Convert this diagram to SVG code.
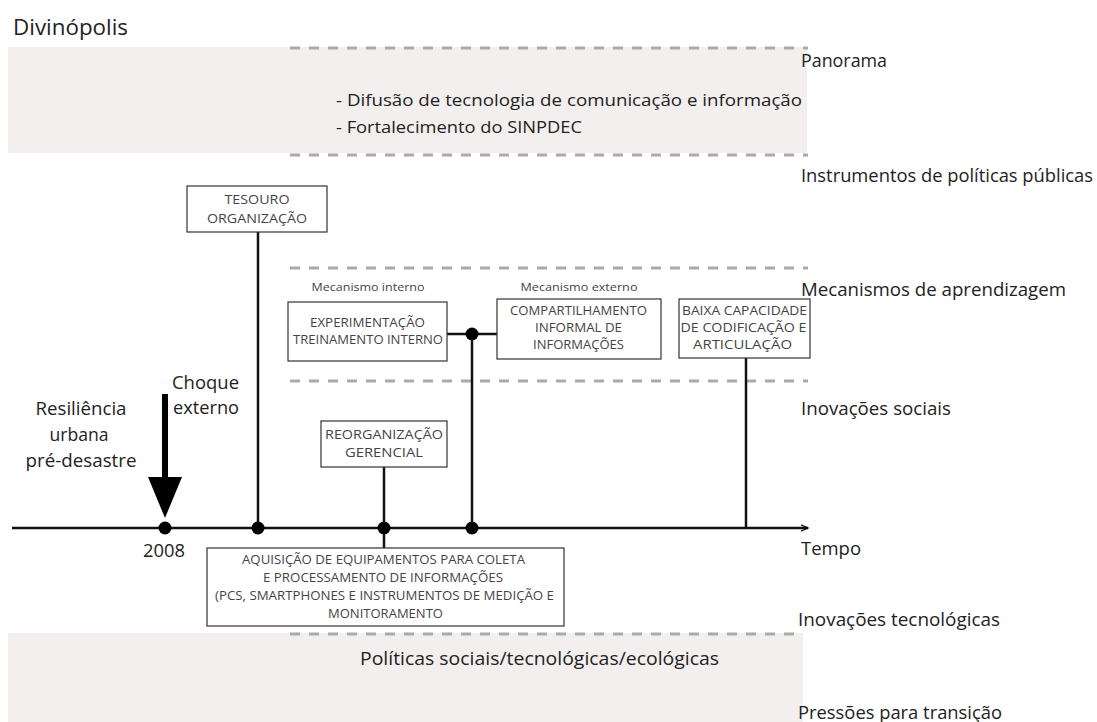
<svg xmlns="http://www.w3.org/2000/svg" width="1097" height="722" viewBox="0 0 1097 722">
<defs>
<style>
text{font-family:"Open Sans","Liberation Sans",sans-serif;fill:#222}
.lbl{font-size:17.5px}
.box{fill:#fff;stroke:#333;stroke-width:1.2}
.bt{font-size:12.5px;fill:#444;text-anchor:middle}
.mt{font-size:11.5px;fill:#444;text-anchor:middle}
.dash{stroke:#aaa;stroke-width:3;stroke-dasharray:10 9;fill:none}
.band{fill:#f2efee}
.ln{stroke:#111;stroke-width:2.5;fill:none}
.dot{fill:#000}
</style>
<marker id="arr" viewBox="0 0 10 10" refX="9" refY="5" markerWidth="8" markerHeight="8" orient="auto" markerUnits="userSpaceOnUse"><path d="M0,1 L9,5 L0,9" fill="none" stroke="#000" stroke-width="1.5"/></marker>
</defs>
<rect width="1097" height="722" fill="#fff"/>
<g id="background">
<rect class="band" x="8" y="47" width="799" height="106"/>
<rect class="band" x="8" y="633" width="795" height="89"/>
<line class="dash" x1="290" y1="48" x2="808" y2="48"/>
<line class="dash" x1="290" y1="155" x2="808" y2="155"/>
<line class="dash" x1="290" y1="268" x2="808" y2="268"/>
<line class="dash" x1="290" y1="381" x2="808" y2="381"/>
<line class="dash" x1="290" y1="634" x2="803" y2="634"/>
</g>
<g id="titles">
<text x="13" y="35" style="font-size:22px" textLength="115" lengthAdjust="spacingAndGlyphs">Divinópolis</text>
<text x="336" y="106" style="font-size:16.5px" textLength="466" lengthAdjust="spacingAndGlyphs">- Difusão de tecnologia de comunicação e informação</text>
<text x="336" y="133" style="font-size:16.5px" textLength="246" lengthAdjust="spacingAndGlyphs">- Fortalecimento do SINPDEC</text>
<text class="lbl" x="801" y="67" textLength="86" lengthAdjust="spacingAndGlyphs">Panorama</text>
<text class="lbl" x="801" y="182" textLength="292" lengthAdjust="spacingAndGlyphs">Instrumentos de políticas públicas</text>
<text class="lbl" x="801" y="296" textLength="265" lengthAdjust="spacingAndGlyphs">Mecanismos de aprendizagem</text>
<text class="lbl" x="801" y="415" textLength="150" lengthAdjust="spacingAndGlyphs">Inovações sociais</text>
<text class="lbl" x="801" y="555" textLength="60" lengthAdjust="spacingAndGlyphs">Tempo</text>
<text class="lbl" x="798" y="626" textLength="202" lengthAdjust="spacingAndGlyphs">Inovações tecnológicas</text>
<text class="lbl" x="798" y="719" textLength="204" lengthAdjust="spacingAndGlyphs">Pressões para transição</text>
<text class="lbl" x="360" y="665" textLength="359" lengthAdjust="spacingAndGlyphs">Políticas sociais/tecnológicas/ecológicas</text>
<text class="lbl" x="164" y="557" text-anchor="middle" textLength="42" lengthAdjust="spacingAndGlyphs">2008</text>
<text class="lbl" x="81" y="415" text-anchor="middle" textLength="91" lengthAdjust="spacingAndGlyphs">Resiliência</text>
<text class="lbl" x="79" y="441" text-anchor="middle" textLength="59" lengthAdjust="spacingAndGlyphs">urbana</text>
<text class="lbl" x="81" y="467" text-anchor="middle" textLength="111" lengthAdjust="spacingAndGlyphs">pré-desastre</text>
<text class="lbl" x="172" y="389" textLength="67" lengthAdjust="spacingAndGlyphs">Choque</text>
<text class="lbl" x="173" y="414" textLength="66" lengthAdjust="spacingAndGlyphs">externo</text>
<text class="mt" x="368" y="291" textLength="113" lengthAdjust="spacingAndGlyphs">Mecanismo interno</text>
<text class="mt" x="579" y="291" textLength="117" lengthAdjust="spacingAndGlyphs">Mecanismo externo</text>
</g>
<g id="connectors">
<line class="ln" x1="12" y1="528" x2="808" y2="528" marker-end="url(#arr)" stroke-width="2.5"/>
<line class="ln" x1="258" y1="232" x2="258" y2="528"/>
<line class="ln" x1="447" y1="334" x2="497" y2="334"/>
<line class="ln" x1="472" y1="334" x2="472" y2="528"/>
<line class="ln" x1="746" y1="358" x2="746" y2="528"/>
<line class="ln" x1="384" y1="467" x2="384" y2="548"/>
<line x1="165" y1="394" x2="165" y2="480" stroke="#000" stroke-width="6"/>
<polygon points="148,477 182,477 165,518" fill="#000"/>
<circle class="dot" cx="165" cy="528" r="6.5"/>
<circle class="dot" cx="258" cy="528" r="6.5"/>
<circle class="dot" cx="384" cy="528" r="6.5"/>
<circle class="dot" cx="472" cy="528" r="6.5"/>
<circle class="dot" cx="472" cy="334" r="6.5"/>
</g>
<g id="n-tesouro">
<rect class="box" x="187" y="186" width="140" height="46"/>
<text class="bt" x="257" y="204" textLength="65" lengthAdjust="spacingAndGlyphs">TESOURO</text>
<text class="bt" x="257" y="223" textLength="100" lengthAdjust="spacingAndGlyphs">ORGANIZAÇÃO</text>
</g>
<g id="n-experimentacao">
<rect class="box" x="288" y="302" width="159" height="59"/>
<text class="bt" x="367.5" y="327" textLength="115" lengthAdjust="spacingAndGlyphs">EXPERIMENTAÇÃO</text>
<text class="bt" x="368" y="344" textLength="150" lengthAdjust="spacingAndGlyphs">TREINAMENTO INTERNO</text>
</g>
<g id="n-compartilhamento">
<rect class="box" x="497" y="299" width="164" height="60"/>
<text class="bt" x="578.5" y="315" textLength="137" lengthAdjust="spacingAndGlyphs">COMPARTILHAMENTO</text>
<text class="bt" x="578.5" y="332" textLength="87" lengthAdjust="spacingAndGlyphs">INFORMAL DE</text>
<text class="bt" x="578.5" y="349" textLength="91" lengthAdjust="spacingAndGlyphs">INFORMAÇÕES</text>
</g>
<g id="n-baixa">
<rect class="box" x="679" y="299" width="131" height="59"/>
<text class="bt" x="744.5" y="315" textLength="125" lengthAdjust="spacingAndGlyphs">BAIXA CAPACIDADE</text>
<text class="bt" x="743.5" y="332" textLength="126" lengthAdjust="spacingAndGlyphs">DE CODIFICAÇÃO E</text>
<text class="bt" x="742.5" y="349" textLength="99" lengthAdjust="spacingAndGlyphs">ARTICULAÇÃO</text>
</g>
<g id="n-reorganizacao">
<rect class="box" x="321" y="421" width="126" height="46"/>
<text class="bt" x="384" y="439" textLength="118" lengthAdjust="spacingAndGlyphs">REORGANIZAÇÃO</text>
<text class="bt" x="384" y="457" textLength="78" lengthAdjust="spacingAndGlyphs">GERENCIAL</text>
</g>
<g id="n-aquisicao">
<rect class="box" x="207" y="548" width="357" height="78"/>
<text class="bt" x="383.5" y="564" textLength="283" lengthAdjust="spacingAndGlyphs">AQUISIÇÃO DE EQUIPAMENTOS PARA COLETA</text>
<text class="bt" x="383" y="582" textLength="240" lengthAdjust="spacingAndGlyphs">E PROCESSAMENTO DE INFORMAÇÕES</text>
<text class="bt" x="384.5" y="600" textLength="339" lengthAdjust="spacingAndGlyphs">(PCS, SMARTPHONES E INSTRUMENTOS DE MEDIÇÃO E</text>
<text class="bt" x="385.5" y="618" textLength="115" lengthAdjust="spacingAndGlyphs">MONITORAMENTO</text>
</g>
</svg>
